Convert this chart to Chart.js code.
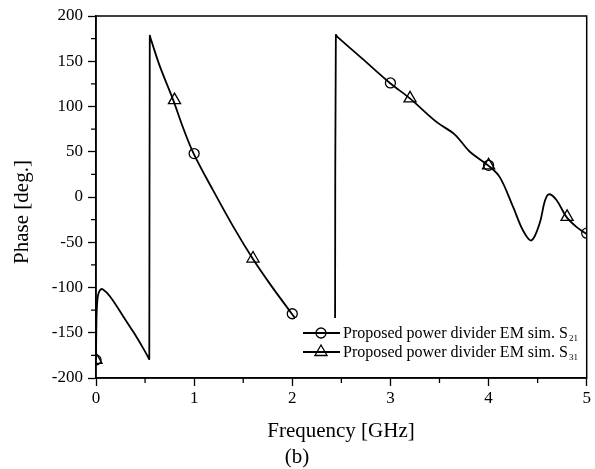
<!DOCTYPE html>
<html>
<head>
<meta charset="utf-8">
<script src="https://cdn.jsdelivr.net/npm/chart.js@4.4.0/dist/chart.umd.min.js"></script>
<style>
  html, body { margin: 0; padding: 0; background: #fff; }
</style>
</head>
<body>
<canvas id="myChart" width="595" height="469"></canvas>
<script>
// phase curve (S21 and S31 lie on top of each other), null = hidden part
let curveFreq  = [0, 0.004, 0.01, 0.02, 0.04, 0.068, 0.143, 0.278, 0.38, 0.48, 0.532, 0.543,
                  0.548, 0.56, 0.652, 0.787, 0.889, 0.995, 1.195, 1.40, 1.596, 1.772, 1.995, 2.03,
                  2.2,
                  2.436, 2.444, 2.46, 2.722, 2.994, 3.198, 3.469, 3.656, 3.809, 3.995, 4.114, 4.25,
                  4.351, 4.437, 4.521, 4.572, 4.613, 4.69, 4.793, 4.895, 5.0]
let curvePhase = [-180, -140, -120, -109, -103, -102, -110, -132, -149, -167, -177, -179,
                  178, 174, 144, 107, 76, 48, 7, -33, -68, -96, -129, -134,
                  null,
                  -136, 179, 177, 152, 126, 109, 83, 69, 50, 35, 22, -11,
                  -37, -48, -29, -5, 3, -3, -22, -33, -41]

// marker positions
let s21Freq  = [0, 1, 2, 3, 4, 5]
let s21Phase = [-180, 48, -129, 126, 35, -40]
let s31Freq  = [0, 0.8, 1.6, 3.2, 4.0, 4.8]
let s31Phase = [-180, 107, -68, 109, 35, -22]

// ticks
let xTicks = [0, 1, 2, 3, 4, 5]
let yTicks = [-200, -150, -100, -50, 0, 50, 100, 150, 200]
let xMinor = [0.5, 1.5, 2.5, 3.5, 4.5]
let yMinor = [-175, -125, -75, -25, 25, 75, 125, 175]

let legendLabels = [
    { text: 'Proposed power divider EM sim. S', sub: '21', style: 'circle', radius: 5 },
    { text: 'Proposed power divider EM sim. S', sub: '31', style: 'triangle', radius: 7 }
]

const FONT = '"Liberation Serif", "Times New Roman", serif'

let toXY = (xs, ys) => xs.map((x, i) => ({ x: x, y: ys[i] }))

// extra drawing: box, minor ticks, titles, legend
const extras = {
    id: 'extras',
    afterDatasetsDraw(chart) {
        const ctx = chart.ctx
        const a = chart.chartArea

        // legend (white box covers the curve)
        ctx.save()
        ctx.fillStyle = '#fff'
        ctx.fillRect(295, 318, a.right - 296, a.bottom - 319)
        legendLabels.forEach((l, i) => {
            let y = 333 + i * 19
            ctx.strokeStyle = '#000'
            ctx.lineWidth = 1.8
            ctx.beginPath()
            ctx.moveTo(303, y)
            ctx.lineTo(340, y)
            ctx.stroke()
            ctx.lineWidth = 1.3
            ctx.fillStyle = 'rgba(0,0,0,0)'
            Chart.helpers.drawPoint(ctx, { pointStyle: l.style, radius: l.radius, borderWidth: 1.3 }, 321, y)
            ctx.fillStyle = '#000'
            ctx.font = '16px ' + FONT
            ctx.textAlign = 'left'
            ctx.textBaseline = 'alphabetic'
            ctx.fillText(l.text, 343, y + 5)
            let w = ctx.measureText(l.text).width
            ctx.font = '9px ' + FONT
            ctx.fillText(l.sub, 343 + w + 1, y + 8)
        })
        ctx.restore()
    },
    afterDraw(chart) {
        const ctx = chart.ctx
        const a = chart.chartArea
        const xs = chart.scales.x
        const ys = chart.scales.y
        ctx.save()
        ctx.strokeStyle = '#000'
        ctx.lineWidth = 1.5
        ctx.strokeRect(a.left, a.top, a.right - a.left, a.bottom - a.top)

        ctx.lineWidth = 1.3
        ctx.beginPath()
        xMinor.forEach(v => {
            let px = xs.getPixelForValue(v)
            ctx.moveTo(px, a.bottom)
            ctx.lineTo(px, a.bottom + 5)
        })
        yMinor.forEach(v => {
            let py = ys.getPixelForValue(v)
            ctx.moveTo(a.left, py)
            ctx.lineTo(a.left - 5, py)
        })
        ctx.stroke()

        ctx.fillStyle = '#000'
        ctx.font = '21px ' + FONT
        ctx.textAlign = 'center'
        ctx.textBaseline = 'middle'
        ctx.fillText('Frequency [GHz]', 341, 431)
        ctx.fillText('(b)', 297, 457)
        ctx.translate(22, 212)
        ctx.rotate(-Math.PI / 2)
        ctx.fillText('Phase [deg.]', 0, 0)
        ctx.restore()
    }
}

let plot = () => {
    const ctx = document.getElementById('myChart')

    const dataset = {
        datasets: [{
            label: 'curve',
            data: toXY(curveFreq, curvePhase),
            showLine: true,
            borderColor: '#000',
            borderWidth: 1.8,
            pointRadius: 0,
            tension: 0.35,
            spanGaps: false
        }, {
            label: 'Proposed power divider EM sim. S21',
            data: toXY(s21Freq, s21Phase),
            showLine: false,
            pointStyle: 'circle',
            pointRadius: 5,
            pointBorderWidth: 1.3,
            pointBorderColor: '#000',
            pointBackgroundColor: 'rgba(0,0,0,0)'
        }, {
            label: 'Proposed power divider EM sim. S31',
            data: toXY(s31Freq, s31Phase),
            showLine: false,
            pointStyle: 'triangle',
            pointRadius: 7,
            pointBorderWidth: 1.3,
            pointBorderColor: '#000',
            pointBackgroundColor: 'rgba(0,0,0,0)'
        }]
    }

    const config = {
        type: 'scatter',
        data: dataset,
        options: {
            responsive: false,
            animation: false,
            layout: { padding: { left: 0, right: 8, top: 16, bottom: 0 } },
            plugins: { legend: { display: false }, tooltip: { enabled: false } },
            scales: {
                x: {
                    type: 'linear', min: 0, max: 5,
                    afterFit: s => { s.height = 91 },
                    afterBuildTicks: s => { s.ticks = xTicks.map(v => ({ value: v })) },
                    ticks: { color: '#000', font: { family: FONT, size: 17 }, padding: 2, maxRotation: 0 },
                    grid: { drawOnChartArea: false, tickLength: 8, tickColor: '#000', tickWidth: 1.3 },
                    border: { color: '#000', width: 1.5 }
                },
                y: {
                    type: 'linear', min: -200, max: 200,
                    afterFit: s => { s.width = 96 },
                    afterBuildTicks: s => { s.ticks = yTicks.map(v => ({ value: v })) },
                    ticks: { color: '#000', font: { family: FONT, size: 17 }, padding: 5 },
                    grid: { drawOnChartArea: false, tickLength: 8, tickColor: '#000', tickWidth: 1.3 },
                    border: { color: '#000', width: 1.5 }
                }
            }
        },
        plugins: [extras]
    }

    const chart = new Chart(ctx, config)
}

plot()
</script>
</body>
</html>
